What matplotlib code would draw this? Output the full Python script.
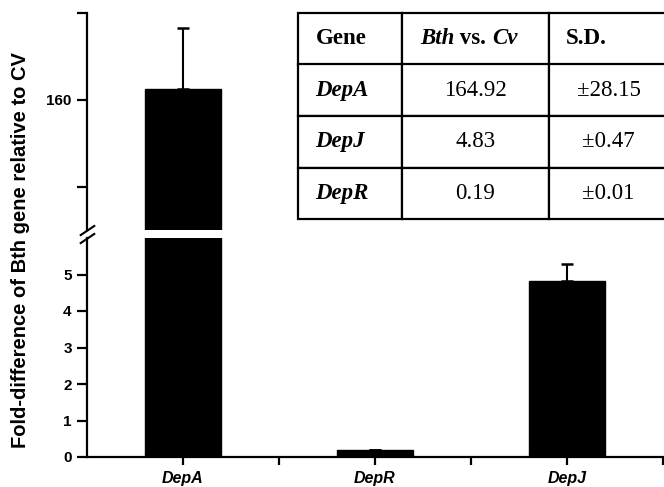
import matplotlib
matplotlib.use("Agg")
import matplotlib.pyplot as plt

# ---- data ----
genes = ["DepA", "DepR", "DepJ"]
fold = [164.92, 0.19, 4.83]
sd = [28.15, 0.01, 0.47]

table_header = ["Gene", "", "S.D."]
table_genes = ["DepA", "DepJ", "DepR"]
table_vals = ["164.92", "4.83", "0.19"]
table_sd = ["±28.15", "±0.47", "±0.01"]

W, H = 664, 487
fig = plt.figure(figsize=(W / 100, H / 100), dpi=100)
sans = ["Liberation Sans", "DejaVu Sans"]
serif = ["Liberation Serif", "DejaVu Serif"]

def fx(px):
    return px / W

def fy(py):
    return 1 - py / H

left, right = 87, 663
ax_top = fig.add_axes([fx(left), fy(230), fx(right - left), fy(13) - fy(230)])
ax_bot = fig.add_axes([fx(left), fy(457), fx(right - left), fy(238) - fy(457)])

x = [1, 2, 3]
for ax in (ax_top, ax_bot):
    ax.bar(x, fold, width=0.4, color="black", edgecolor="black", linewidth=1)
    ax.errorbar(x, fold, yerr=[[0] * len(sd), sd], fmt="none", ecolor="black",
                elinewidth=1.5, capsize=4, capthick=1.8)
    ax.set_xlim(0.5, 3.5)
    for s in ("top", "right"):
        ax.spines[s].set_visible(False)
    ax.spines["left"].set_linewidth(1.6)
    ax.spines["bottom"].set_linewidth(1.6)
    ax.tick_params(axis="y", direction="out", length=7, width=1.6, labelsize=11, pad=4)

ax_top.set_ylim(100, 200)
ax_top.spines["bottom"].set_visible(False)
ax_top.set_xticks([])
ax_top.set_yticks([120, 160, 200])
ax_top.set_yticklabels(["", "160", ""], fontweight="bold", family=sans, fontsize=11)

ax_bot.set_ylim(0, 6)
ax_bot.set_yticks([0, 1, 2, 3, 4, 5])
ax_bot.set_yticklabels(["0", "1", "2", "3", "4", "5"], fontweight="bold", family=sans, fontsize=11)
ax_bot.set_xticks(x)
ax_bot.set_xticklabels(genes, fontweight="bold", fontstyle="italic", family=sans, fontsize=11.5)
ax_bot.set_xticks([1.5, 2.5, 3.5], minor=True)
ax_bot.tick_params(axis="x", which="both", direction="out", length=6, width=1.6, pad=4)

# break marks
mk = [(-1, -0.67), (1, 0.67)]
kw = dict(marker=mk, markersize=11, linestyle="none", color="black", mec="black", mew=1.5, clip_on=False)
ax_top.plot([0], [0], transform=ax_top.transAxes, **kw)
ax_bot.plot([0], [1], transform=ax_bot.transAxes, **kw)

fig.text(fx(21), fy(250), "Fold-difference of Bth gene relative to CV", rotation=90,
         ha="center", va="center", fontsize=14.5, fontweight="bold", family=sans)

# ---- table ----
tl, tr, tt, tb = 298, 668, 13, 219
tax = fig.add_axes([fx(tl), fy(tb), fx(tr - tl), fy(tt) - fy(tb)])
tax.axis("off")
cells = [table_header] + [[g, v, s] for g, v, s in zip(table_genes, table_vals, table_sd)]
cw = [103, 147, 118]
tot = sum(cw)
tbl = tax.table(cellText=cells, colWidths=[c / tot for c in cw], bbox=[0, 0, 1, 1])
tbl.auto_set_font_size(False)
tbl.set_fontsize(16.5)
for (r, c), cell in tbl.get_celld().items():
    cell.set_linewidth(1.6)
    cell.set_edgecolor("black")
    t = cell.get_text()
    t.set_fontfamily(serif)
    if c == 0:
        t.set_ha("left")
        cell._loc = "left"
        cell.PAD = 0.17
        t.set_fontweight("bold")
        if r > 0:
            t.set_fontstyle("italic")
    elif r == 0:
        t.set_ha("left")
        cell._loc = "left"
        cell.PAD = 0.14
        t.set_fontweight("bold")
    else:
        t.set_ha("center")
        cell._loc = "center"

# header "Bth vs. Cv"
t1 = fig.text(fx(420), fy(39), "Bth", fontsize=16.5, fontweight="bold", fontstyle="italic",
              family=serif, ha="left", va="center")
t2 = tax.annotate(" vs. ", xy=(1, 0), xycoords=t1, ha="left", va="bottom", fontsize=16.5,
                  fontweight="bold", family=serif)
t3 = tax.annotate("Cv", xy=(1, 0), xycoords=t2, ha="left", va="bottom", fontsize=16.5,
                  fontweight="bold", fontstyle="italic", family=serif)

fig.savefig("out.png", dpi=100)
